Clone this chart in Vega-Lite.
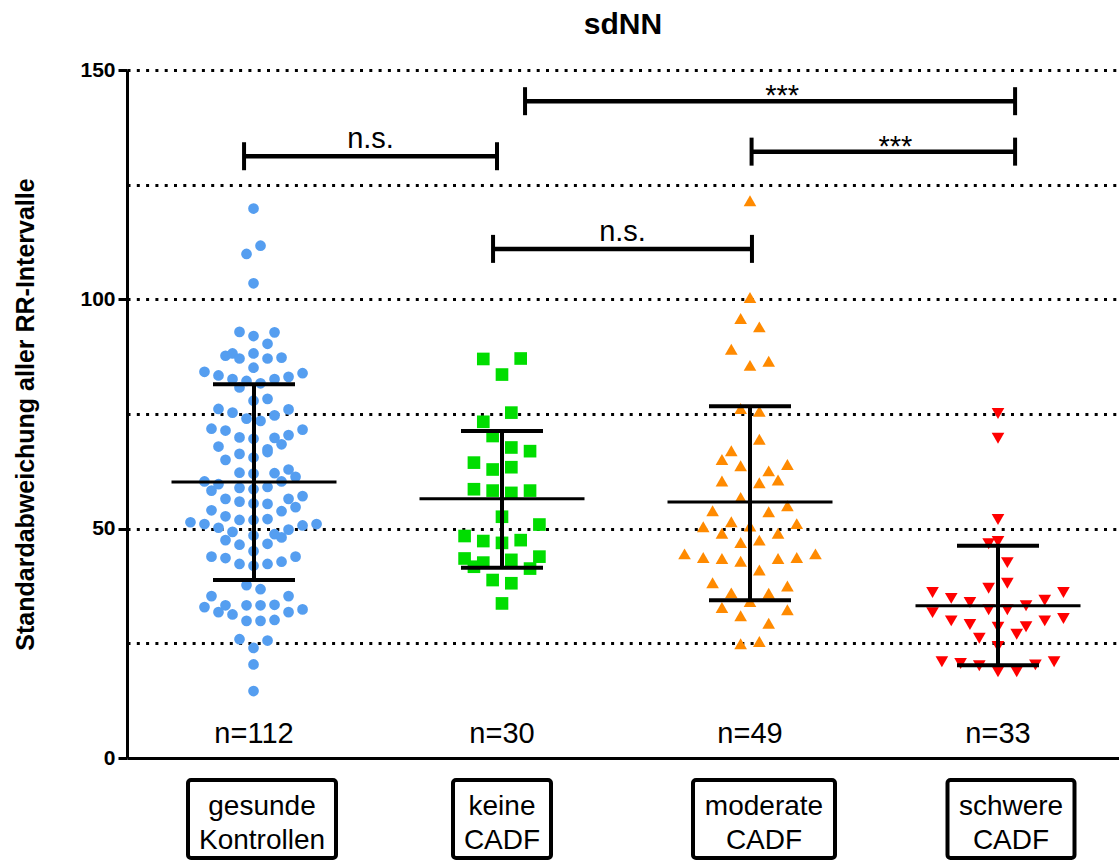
{
  "$schema": "https://vega.github.io/schema/vega-lite/v6.json",
  "width": 992,
  "height": 688,
  "autosize": "none",
  "padding": {"left": 127, "top": 70, "right": 0, "bottom": 103},
  "background": "white",
  "config": {"view": {"stroke": null}, "font": "Liberation Sans"},
  "title": {"text": "sdNN", "anchor": "middle", "fontSize": 30, "fontWeight": "bold", "font": "Liberation Sans", "color": "black", "offset": 19},
  "datasets": {
    "pts": [
      {"g":"G","v":119.8,"s":0},{"g":"G","v":111.7,"s":1},{"g":"G","v":109.9,"s":-1},{"g":"G","v":103.5,"s":0},
      {"g":"G","v":92.9,"s":-2},{"g":"G","v":92.0,"s":0},{"g":"G","v":92.8,"s":3},{"g":"G","v":90.3,"s":2},
      {"g":"G","v":87.7,"s":-4},{"g":"G","v":88.2,"s":-3},{"g":"G","v":87.1,"s":-2},{"g":"G","v":88.2,"s":0},{"g":"G","v":87.1,"s":2},{"g":"G","v":87.3,"s":4},
      {"g":"G","v":84.2,"s":-7},{"g":"G","v":83.4,"s":-5},{"g":"G","v":85.1,"s":0},{"g":"G","v":83.9,"s":7},{"g":"G","v":83.1,"s":5},{"g":"G","v":82.6,"s":-3},{"g":"G","v":82.2,"s":-1},{"g":"G","v":82.6,"s":3},{"g":"G","v":81.7,"s":1},{"g":"G","v":80.8,"s":-2},
      {"g":"G","v":77.9,"s":0},{"g":"G","v":78.3,"s":2},{"g":"G","v":76.1,"s":-5},{"g":"G","v":75.3,"s":-3},{"g":"G","v":76.0,"s":5},{"g":"G","v":74.0,"s":-1},{"g":"G","v":73.5,"s":1},{"g":"G","v":74.7,"s":3},
      {"g":"G","v":71.8,"s":-6},{"g":"G","v":71.4,"s":-4},{"g":"G","v":71.6,"s":7},{"g":"G","v":69.9,"s":-2},{"g":"G","v":69.6,"s":0},{"g":"G","v":69.8,"s":3},{"g":"G","v":70.4,"s":5},{"g":"G","v":68.4,"s":4},{"g":"G","v":67.9,"s":-5},{"g":"G","v":67.3,"s":2},
      {"g":"G","v":66.3,"s":-2},{"g":"G","v":66.7,"s":2},{"g":"G","v":65.0,"s":-4},{"g":"G","v":65.5,"s":0},
      {"g":"G","v":62.2,"s":-2},{"g":"G","v":62.0,"s":0},{"g":"G","v":62.1,"s":3},{"g":"G","v":62.9,"s":5},{"g":"G","v":61.3,"s":6},
      {"g":"G","v":60.3,"s":-7},{"g":"G","v":58.3,"s":-6},{"g":"G","v":59.7,"s":-5},{"g":"G","v":58.9,"s":-2},{"g":"G","v":58.6,"s":0},{"g":"G","v":59.1,"s":2},{"g":"G","v":60.3,"s":4},
      {"g":"G","v":56.5,"s":-4},{"g":"G","v":55.9,"s":-2},{"g":"G","v":55.5,"s":0},{"g":"G","v":55.4,"s":2},{"g":"G","v":56.5,"s":5},{"g":"G","v":57.1,"s":7},{"g":"G","v":54.7,"s":6},
      {"g":"G","v":54.0,"s":-6},{"g":"G","v":52.7,"s":-4},{"g":"G","v":51.9,"s":-2},{"g":"G","v":51.9,"s":0},{"g":"G","v":52.1,"s":2},{"g":"G","v":53.8,"s":4},
      {"g":"G","v":51.4,"s":-9},{"g":"G","v":51.0,"s":-7},{"g":"G","v":50.2,"s":-5},{"g":"G","v":49.3,"s":-3},{"g":"G","v":48.5,"s":0},{"g":"G","v":48.8,"s":3},{"g":"G","v":48.1,"s":4},{"g":"G","v":49.8,"s":5},{"g":"G","v":50.7,"s":7},{"g":"G","v":51.0,"s":9},
      {"g":"G","v":47.5,"s":-4},{"g":"G","v":46.5,"s":-2},{"g":"G","v":46.7,"s":2},{"g":"G","v":45.1,"s":0},
      {"g":"G","v":43.9,"s":-6},{"g":"G","v":43.6,"s":-4},{"g":"G","v":42.3,"s":-2},{"g":"G","v":41.9,"s":0},{"g":"G","v":42.3,"s":2},{"g":"G","v":42.8,"s":4},{"g":"G","v":43.9,"s":6},
      {"g":"G","v":37.7,"s":-1},{"g":"G","v":36.8,"s":1},{"g":"G","v":35.3,"s":-6},{"g":"G","v":35.3,"s":5},
      {"g":"G","v":32.9,"s":-7},{"g":"G","v":33.3,"s":-4},{"g":"G","v":31.8,"s":-5},{"g":"G","v":31.3,"s":-3},{"g":"G","v":33.3,"s":-1},{"g":"G","v":33.3,"s":1},{"g":"G","v":33.4,"s":3},{"g":"G","v":31.8,"s":5},{"g":"G","v":32.4,"s":7},
      {"g":"G","v":29.9,"s":-1},{"g":"G","v":29.9,"s":1},{"g":"G","v":30.1,"s":3},
      {"g":"G","v":25.9,"s":-2},{"g":"G","v":25.6,"s":2},{"g":"G","v":24.0,"s":0},{"g":"G","v":20.4,"s":0},{"g":"G","v":14.6,"s":0},
      {"g":"K","v":87.0,"s":-2},{"g":"K","v":87.1,"s":2},{"g":"K","v":83.6,"s":0},{"g":"K","v":75.3,"s":1},{"g":"K","v":73.3,"s":-2},{"g":"K","v":70.2,"s":-1},
      {"g":"K","v":67.7,"s":1},{"g":"K","v":66.9,"s":3},{"g":"K","v":64.4,"s":-3},{"g":"K","v":62.9,"s":-1},{"g":"K","v":63.4,"s":1},
      {"g":"K","v":58.6,"s":-3},{"g":"K","v":58.3,"s":-1},{"g":"K","v":57.8,"s":1},{"g":"K","v":58.3,"s":3},{"g":"K","v":52.6,"s":0},{"g":"K","v":50.9,"s":4},
      {"g":"K","v":48.4,"s":-4},{"g":"K","v":47.3,"s":-2},{"g":"K","v":46.9,"s":0},{"g":"K","v":47.5,"s":2},
      {"g":"K","v":43.5,"s":-4},{"g":"K","v":41.7,"s":-3},{"g":"K","v":42.6,"s":-2},{"g":"K","v":43.2,"s":1},{"g":"K","v":41.3,"s":3},{"g":"K","v":43.9,"s":4},
      {"g":"K","v":38.8,"s":-1},{"g":"K","v":38.1,"s":1},{"g":"K","v":33.7,"s":0},
      {"g":"M","v":121.5,"s":0},{"g":"M","v":100.4,"s":0},{"g":"M","v":95.8,"s":-1},{"g":"M","v":94.0,"s":1},{"g":"M","v":89.1,"s":-2},{"g":"M","v":85.6,"s":0},{"g":"M","v":86.5,"s":2},
      {"g":"M","v":76.2,"s":-1},{"g":"M","v":75.6,"s":1},{"g":"M","v":69.5,"s":1},{"g":"M","v":67.0,"s":-2},{"g":"M","v":65.1,"s":-3},{"g":"M","v":63.7,"s":-1},{"g":"M","v":64.0,"s":4},
      {"g":"M","v":62.6,"s":2},{"g":"M","v":60.6,"s":3},{"g":"M","v":60.4,"s":-3},{"g":"M","v":60.0,"s":1},{"g":"M","v":56.8,"s":-1},
      {"g":"M","v":53.9,"s":-4},{"g":"M","v":53.7,"s":2},{"g":"M","v":55.0,"s":4},{"g":"M","v":50.4,"s":-5},{"g":"M","v":51.5,"s":-2},{"g":"M","v":50.6,"s":0},{"g":"M","v":51.1,"s":5},
      {"g":"M","v":49.0,"s":-3},{"g":"M","v":49.0,"s":3},{"g":"M","v":47.0,"s":-1},{"g":"M","v":47.5,"s":1},
      {"g":"M","v":44.5,"s":-7},{"g":"M","v":43.7,"s":-5},{"g":"M","v":43.5,"s":-3},{"g":"M","v":42.9,"s":-1},{"g":"M","v":43.5,"s":3},{"g":"M","v":43.7,"s":5},{"g":"M","v":44.5,"s":7},
      {"g":"M","v":41.0,"s":1},{"g":"M","v":38.2,"s":-4},{"g":"M","v":37.5,"s":4},{"g":"M","v":36.0,"s":-2},{"g":"M","v":35.9,"s":2},
      {"g":"M","v":34.1,"s":0},{"g":"M","v":32.8,"s":-3},{"g":"M","v":32.3,"s":4},{"g":"M","v":31.0,"s":-1},{"g":"M","v":29.4,"s":2},{"g":"M","v":24.9,"s":-1},{"g":"M","v":25.4,"s":1},
      {"g":"S","v":75.1,"s":0},{"g":"S","v":69.7,"s":0},{"g":"S","v":52.0,"s":0},{"g":"S","v":46.7,"s":-1},{"g":"S","v":47.2,"s":0},{"g":"S","v":42.6,"s":1},{"g":"S","v":37.0,"s":-1},{"g":"S","v":38.1,"s":1},
      {"g":"S","v":36.1,"s":-7},{"g":"S","v":34.8,"s":-5},{"g":"S","v":33.9,"s":-3},{"g":"S","v":33.2,"s":3},{"g":"S","v":34.4,"s":5},{"g":"S","v":36.1,"s":7},
      {"g":"S","v":31.7,"s":-7},{"g":"S","v":32.3,"s":-1},{"g":"S","v":32.3,"s":1},
      {"g":"S","v":29.9,"s":-5},{"g":"S","v":29.1,"s":-3},{"g":"S","v":28.6,"s":3},{"g":"S","v":29.9,"s":5},{"g":"S","v":30.4,"s":7},{"g":"S","v":28.5,"s":0},
      {"g":"S","v":27.0,"s":2},{"g":"S","v":26.1,"s":-2},{"g":"S","v":24.3,"s":0},
      {"g":"S","v":21.0,"s":-6},{"g":"S","v":20.6,"s":-4},{"g":"S","v":20.1,"s":-2},{"g":"S","v":18.8,"s":0},{"g":"S","v":18.8,"s":2},{"g":"S","v":20.3,"s":4},{"g":"S","v":21.0,"s":6}
    ],
    "stats": [
      {"g":"G","mean":60.2,"sdlo":38.8,"sdhi":81.5,"n":"n=112"},
      {"g":"K","mean":56.5,"sdlo":41.5,"sdhi":71.3,"n":"n=30"},
      {"g":"M","mean":55.8,"sdlo":34.4,"sdhi":76.7,"n":"n=49"},
      {"g":"S","mean":33.2,"sdlo":20.2,"sdhi":46.3,"n":"n=33"}
    ],
    "brackets": [
      {"x1":0.972,"x2":1.992,"y":131.2,"lab":"n.s."},
      {"x1":1.976,"x2":3.02,"y":111.0,"lab":"n.s."},
      {"x1":2.105,"x2":4.081,"y":143.2,"lab":"***"},
      {"x1":3.0185,"x2":4.081,"y":132.2,"lab":"***"}
    ]
  },
  "resolve": {"scale": {"x": "independent"}, "axis": {"x": "independent"}},
  "layer": [
    {
      "layer": [
        {
          "data": {"name": "pts"},
          "resolve": {"scale": {"xOffset": "independent"}},
          "layer": [
            {
              "transform": [{"filter": "datum.g == 'G'"}],
              "mark": {"type": "point", "filled": true, "shape": "circle", "size": 115, "color": "#559EF0", "opacity": 1},
              "encoding": {
                "x": {"field": "g", "type": "nominal", "scale": {"type": "band", "domain": ["G","K","M","S"], "paddingInner": 0, "paddingOuter": 0},
                  "axis": {"title": null, "labelExpr": "datum.value == 'G' ? ['gesunde','Kontrollen'] : datum.value == 'K' ? ['keine','CADF'] : datum.value == 'M' ? ['moderate','CADF'] : ['schwere','CADF']",
                    "labelFontSize": 28, "labelColor": "black", "labelFont": "Liberation Sans", "labelLineHeight": 34, "labelBaseline": "alphabetic", "labelPadding": 56,
                    "ticks": false, "tickSize": 0, "domainColor": "black", "domainWidth": 3, "grid": false, "labelAngle": 0, "labelLimit": 0,
                    "labelOffset": {"condition": [{"test": "datum.value == 'G'", "value": 11}, {"test": "datum.value == 'K'", "value": 3}, {"test": "datum.value == 'M'", "value": 17}], "value": 16}}},
                "xOffset": {"field": "s", "type": "quantitative", "scale": {"domain": [-18.06, 17.34]}},
                "y": {"field": "v", "type": "quantitative", "scale": {"domain": [0, 150], "nice": false},
                  "axis": {"values": [0,25,50,75,100,125,150], "labelExpr": "datum.value % 50 == 0 ? datum.label : ''",
                    "title": "Standardabweichung aller RR-Intervalle", "titleFontSize": 25, "titleFontWeight": "bold", "titleFont": "Liberation Sans", "titleColor": "black",
                    "titleX": -94, "titleY": 344, "titleBaseline": "alphabetic", "titleAngle": -90, "titleAlign": "center",
                    "labelFontSize": 21, "labelFontWeight": "bold", "labelColor": "black", "labelFont": "Liberation Sans", "labelPadding": 3,
                    "tickSize": 9, "tickWidth": 3, "tickColor": "black", "tickOpacity": {"condition": {"test": "datum.value % 50 != 0", "value": 0}, "value": 1},
                    "domainColor": "black", "domainWidth": 3, "grid": true, "gridColor": "black", "gridWidth": 3, "gridDash": [3, 6.3],
                    "gridOpacity": {"condition": {"test": "datum.value == 0", "value": 0}, "value": 1}}}
              }
            },
            {
              "transform": [{"filter": "datum.g != 'G'"}],
              "mark": {"type": "point", "filled": true, "size": 160, "opacity": 1},
              "encoding": {
                "x": {"field": "g", "type": "nominal", "scale": {"type": "band", "domain": ["G","K","M","S"], "paddingInner": 0, "paddingOuter": 0}},
                "xOffset": {"field": "s", "type": "quantitative", "scale": {"domain": [-13.58, 12.94]}},
                "y": {"field": "v", "type": "quantitative", "scale": {"domain": [0, 150], "nice": false}},
                "shape": {"field": "g", "type": "nominal", "scale": {"domain": ["K","M","S"], "range": ["square","triangle-up","triangle-down"]}, "legend": null},
                "color": {"field": "g", "type": "nominal", "scale": {"domain": ["K","M","S"], "range": ["#00DD00","#FF8A00","#FF0000"]}, "legend": null}
              }
            }
          ]
        },
        {
          "data": {"name": "stats"},
          "mark": {"type": "rule", "strokeWidth": 4, "color": "black", "xOffset": 3},
          "encoding": {
            "x": {"field": "g", "type": "nominal", "scale": {"type": "band", "domain": ["G","K","M","S"], "paddingInner": 0, "paddingOuter": 0}},
            "y": {"field": "sdlo", "type": "quantitative", "scale": {"domain": [0, 150], "nice": false}},
            "y2": {"field": "sdhi"}
          }
        },
        {
          "data": {"name": "stats"},
          "transform": [{"fold": ["sdlo", "sdhi"], "as": ["k", "val"]}],
          "mark": {"type": "tick", "orient": "horizontal", "size": 82, "thickness": 4, "color": "black", "opacity": 1, "xOffset": 3},
          "encoding": {
            "x": {"field": "g", "type": "nominal", "scale": {"type": "band", "domain": ["G","K","M","S"], "paddingInner": 0, "paddingOuter": 0}},
            "y": {"field": "val", "type": "quantitative", "scale": {"domain": [0, 150], "nice": false}}
          }
        },
        {
          "data": {"name": "stats"},
          "mark": {"type": "tick", "orient": "horizontal", "size": 165, "thickness": 3, "color": "black", "opacity": 1, "xOffset": 3},
          "encoding": {
            "x": {"field": "g", "type": "nominal", "scale": {"type": "band", "domain": ["G","K","M","S"], "paddingInner": 0, "paddingOuter": 0}},
            "y": {"field": "mean", "type": "quantitative", "scale": {"domain": [0, 150], "nice": false}}
          }
        },
        {
          "data": {"name": "stats"},
          "mark": {"type": "text", "fontSize": 29, "font": "Liberation Sans", "color": "black", "baseline": "alphabetic", "align": "center", "xOffset": 3},
          "encoding": {
            "x": {"field": "g", "type": "nominal", "scale": {"type": "band", "domain": ["G","K","M","S"], "paddingInner": 0, "paddingOuter": 0}},
            "y": {"datum": 3.3, "scale": {"domain": [0, 150], "nice": false}},
            "text": {"field": "n"}
          }
        },
        {
          "data": {"name": "stats"},
          "transform": [{"filter": "datum.g == 'G'"}],
          "mark": {"type": "rect", "filled": false, "stroke": "black", "strokeWidth": 4, "cornerRadius": 3, "width": 148, "xOffset": 11},
          "encoding": {
            "x": {"field": "g", "type": "nominal", "scale": {"type": "band", "domain": ["G","K","M","S"], "paddingInner": 0, "paddingOuter": 0}},
            "y": {"datum": -4.8, "scale": {"domain": [0, 150], "nice": false}},
            "y2": {"datum": -21.8}
          }
        },
        {
          "data": {"name": "stats"},
          "transform": [{"filter": "datum.g == 'K'"}],
          "mark": {"type": "rect", "filled": false, "stroke": "black", "strokeWidth": 4, "cornerRadius": 3, "width": 98, "xOffset": 3},
          "encoding": {
            "x": {"field": "g", "type": "nominal", "scale": {"type": "band", "domain": ["G","K","M","S"], "paddingInner": 0, "paddingOuter": 0}},
            "y": {"datum": -4.8, "scale": {"domain": [0, 150], "nice": false}},
            "y2": {"datum": -21.8}
          }
        },
        {
          "data": {"name": "stats"},
          "transform": [{"filter": "datum.g == 'M'"}],
          "mark": {"type": "rect", "filled": false, "stroke": "black", "strokeWidth": 4, "cornerRadius": 3, "width": 142, "xOffset": 17},
          "encoding": {
            "x": {"field": "g", "type": "nominal", "scale": {"type": "band", "domain": ["G","K","M","S"], "paddingInner": 0, "paddingOuter": 0}},
            "y": {"datum": -4.8, "scale": {"domain": [0, 150], "nice": false}},
            "y2": {"datum": -21.8}
          }
        },
        {
          "data": {"name": "stats"},
          "transform": [{"filter": "datum.g == 'S'"}],
          "mark": {"type": "rect", "filled": false, "stroke": "black", "strokeWidth": 4, "cornerRadius": 3, "width": 127, "xOffset": 16},
          "encoding": {
            "x": {"field": "g", "type": "nominal", "scale": {"type": "band", "domain": ["G","K","M","S"], "paddingInner": 0, "paddingOuter": 0}},
            "y": {"datum": -4.8, "scale": {"domain": [0, 150], "nice": false}},
            "y2": {"datum": -21.8}
          }
        }
      ]
    },
    {
      "data": {"name": "brackets"},
      "layer": [
        {
          "mark": {"type": "rule", "strokeWidth": 4.5, "color": "black"},
          "encoding": {
            "x": {"field": "x1", "type": "quantitative", "scale": {"domain": [0.5, 4.5], "nice": false, "zero": false}, "axis": null},
            "x2": {"field": "x2"},
            "y": {"field": "y", "type": "quantitative", "scale": {"domain": [0, 150], "nice": false}}
          }
        },
        {
          "transform": [{"fold": ["x1", "x2"], "as": ["end", "xv"]}],
          "mark": {"type": "tick", "orient": "vertical", "size": 28, "thickness": 4, "color": "black", "opacity": 1},
          "encoding": {
            "x": {"field": "xv", "type": "quantitative", "scale": {"domain": [0.5, 4.5], "nice": false, "zero": false}, "axis": null},
            "y": {"field": "y", "type": "quantitative", "scale": {"domain": [0, 150], "nice": false}}
          }
        },
        {
          "transform": [{"filter": "datum.lab == 'n.s.'"}, {"fold": ["x1", "x2"], "as": ["end", "xv"]}],
          "mark": {"type": "text", "fontSize": 29, "font": "Liberation Sans", "color": "black", "baseline": "alphabetic", "align": "center", "dy": -8},
          "encoding": {
            "x": {"aggregate": "mean", "field": "xv", "type": "quantitative", "scale": {"domain": [0.5, 4.5], "nice": false, "zero": false}, "axis": null},
            "y": {"field": "y", "type": "quantitative", "scale": {"domain": [0, 150], "nice": false}},
            "text": {"field": "lab"}
          }
        },
        {
          "transform": [{"filter": "datum.lab == '***'"}, {"fold": ["x1", "x2"], "as": ["end", "xv"]}],
          "mark": {"type": "text", "fontSize": 29, "font": "Liberation Sans", "color": "black", "baseline": "alphabetic", "align": "center", "dy": 4, "dx": 12},
          "encoding": {
            "x": {"aggregate": "mean", "field": "xv", "type": "quantitative", "scale": {"domain": [0.5, 4.5], "nice": false, "zero": false}, "axis": null},
            "y": {"field": "y", "type": "quantitative", "scale": {"domain": [0, 150], "nice": false}},
            "text": {"field": "lab"}
          }
        }
      ]
    }
  ]
}
